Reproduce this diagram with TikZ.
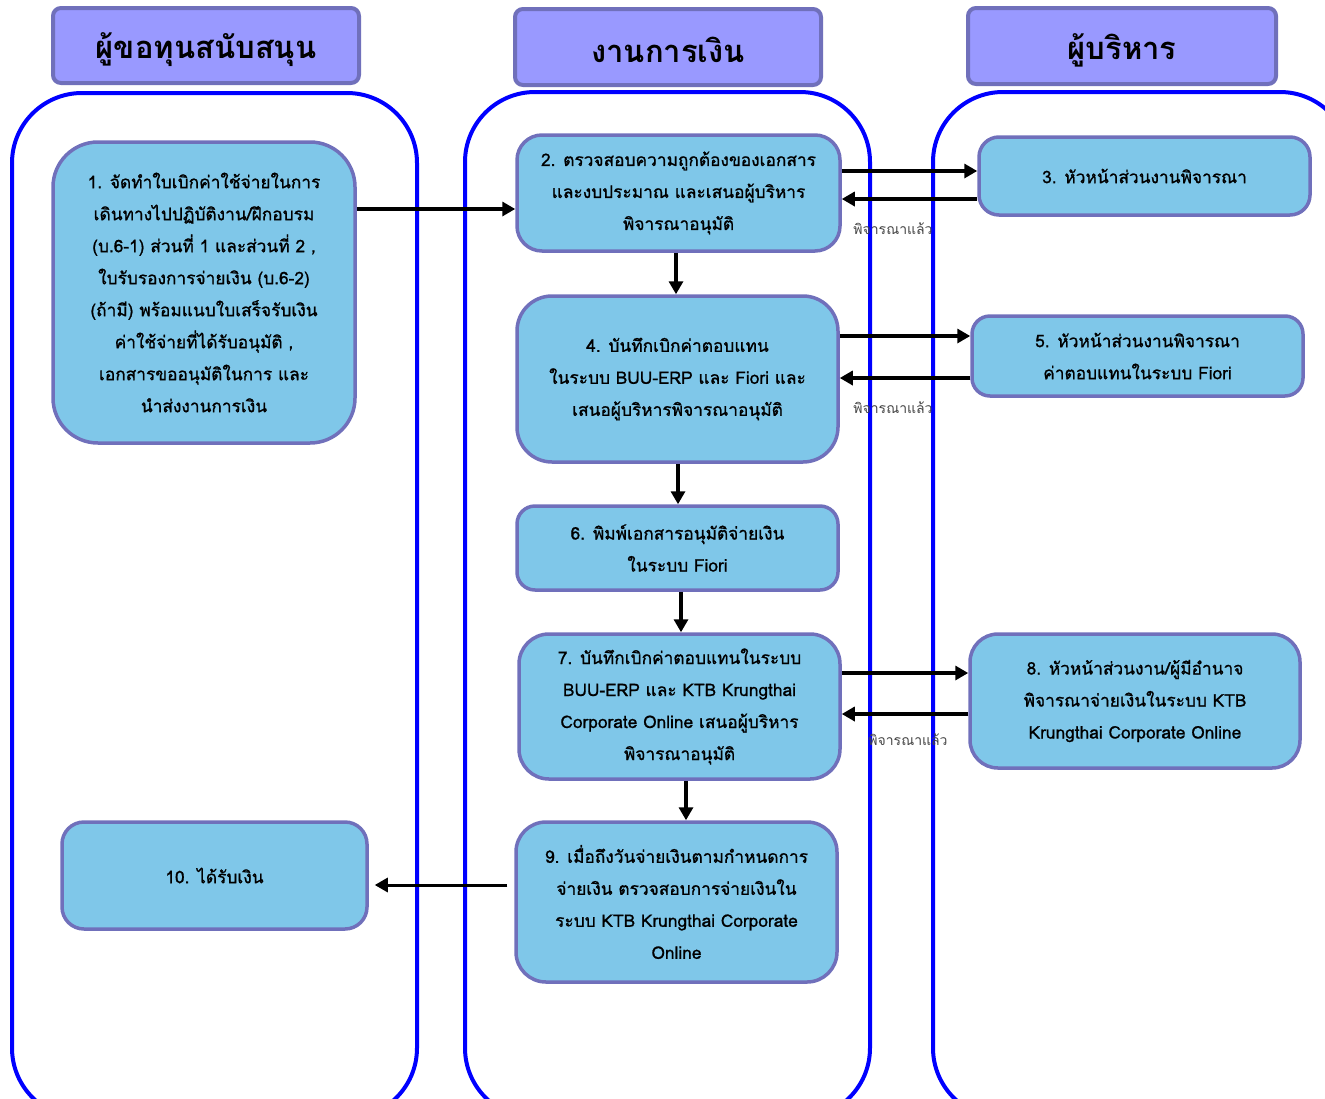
\documentclass[tikz,border=0pt]{standalone}
\usepackage{fontspec}
\newfontfamily\thai[Script=Thai, FakeBold=1.0]{Loma}
\newfontfamily\thaiplain[Script=Thai]{Loma}
\usetikzlibrary{arrows.meta}
\definecolor{boxfill}{HTML}{7FC7E9}
\definecolor{boxborder}{HTML}{7070BB}
\definecolor{headfill}{HTML}{9999FF}
\definecolor{lanecol}{HTML}{0000FF}
\definecolor{labgray}{HTML}{444444}
\tikzset{
  lane/.style={draw=lanecol, line width=4pt, rounded corners=70pt},
  stepbox/.style={draw=boxborder, line width=3.5pt, fill=boxfill, rounded corners=25pt,
    align=center, inner sep=0pt, font=\thai\fontsize{17.3}{32}\selectfont},
  headbox/.style={draw=boxborder, line width=4pt, fill=headfill, rounded corners=8pt,
    align=center, inner sep=0pt, font=\thaiplain\bfseries\fontsize{31}{34}\selectfont},
  headtext/.style={inner sep=0pt, font=\thaiplain\bfseries\fontsize{31}{34}\selectfont},
  arr/.style={draw=black, line width=4pt, -{Triangle[length=13pt,width=14pt]}},
  lab/.style={text=labgray, inner sep=0pt, font=\thaiplain\fontsize{14}{16}\selectfont},
}
\begin{document}
\begin{tikzpicture}[x=1pt,y=-1pt]
\useasboundingbox (0,0) rectangle (1325,1098);
\clip (0,0) rectangle (1325,1098);
% lanes
\draw[lane] (12,93) rectangle (417,1118);
\draw[lane] (465,92) rectangle (870,1118);
\draw[lane] (933,92) rectangle (1350,1118);
% headers
\node[headbox, minimum width=306pt, minimum height=75pt] (h1) at (206,45.5) {};
\node[headbox, minimum width=306pt, minimum height=76pt] (h2) at (668,47) {};
\node[headbox, minimum width=308pt, minimum height=76pt] (h3) at (1122,46) {};
\node[headtext] (t1) at ([yshift=-4pt]h1.center) {ผู้ขอทุนสนับสนุน};
\node[headtext] (t2) at ([yshift=-3pt]h2.center) {งานการเงิน};
\node[headtext] (t3) at ([yshift=-4pt]h3.center) {ผู้บริหาร};
% steps
\node[stepbox, rounded corners=45pt, minimum width=302pt, minimum height=301pt] (b1) at (204,292.5)
 {1. จัดทำใบเบิกค่าใช้จ่ายในการ\\เดินทางไปปฏิบัติงาน/ฝึกอบรม\\(บ.6-1) ส่วนที่ 1 และส่วนที่ 2 ,\\ใบรับรองการจ่ายเงิน (บ.6-2)\\(ถ้ามี) พร้อมแนบใบเสร็จรับเงิน\\ค่าใช้จ่ายที่ได้รับอนุมัติ ,\\เอกสารขออนุมัติในการ และ\\นำส่งงานการเงิน};
\node[stepbox, minimum width=323pt, minimum height=116pt] (b2) at (678.5,193)
 {2. ตรวจสอบความถูกต้องของเอกสาร\\และงบประมาณ และเสนอผู้บริหาร\\พิจารณาอนุมัติ};
\node[stepbox, rounded corners=20pt, minimum width=331pt, minimum height=78pt] (b3) at (1144.5,176)
 {3. หัวหน้าส่วนงานพิจารณา};
\node[stepbox, rounded corners=35pt, minimum width=321pt, minimum height=166pt] (b4) at (677.5,379)
 {4. บันทึกเบิกค่าตอบแทน\\ในระบบ BUU-ERP และ Fiori และ\\เสนอผู้บริหารพิจารณาอนุมัติ};
\node[stepbox, rounded corners=18pt, minimum width=331pt, minimum height=80pt] (b5) at (1137.5,356)
 {5. หัวหน้าส่วนงานพิจารณา\\ค่าตอบแทนในระบบ Fiori};
\node[stepbox, rounded corners=18pt, minimum width=321pt, minimum height=84pt] (b6) at (677.5,548)
 {6. พิมพ์เอกสารอนุมัติจ่ายเงิน\\ในระบบ Fiori};
\node[stepbox, rounded corners=30pt, minimum width=321pt, minimum height=145pt] (b7) at (679.5,706.5)
 {7. บันทึกเบิกค่าตอบแทนในระบบ\\BUU-ERP และ KTB Krungthai\\Corporate Online เสนอผู้บริหาร\\พิจารณาอนุมัติ};
\node[stepbox, rounded corners=28pt, minimum width=330pt, minimum height=134pt] (b8) at (1135,701)
 {8. หัวหน้าส่วนงาน/ผู้มีอำนาจ\\พิจารณาจ่ายเงินในระบบ KTB\\Krungthai Corporate Online};
\node[stepbox, rounded corners=30pt, minimum width=321pt, minimum height=160pt] (b9) at (676.5,902)
 {9. เมื่อถึงวันจ่ายเงินตามกำหนดการ\\จ่ายเงิน ตรวจสอบการจ่ายเงินใน\\ระบบ KTB Krungthai Corporate\\Online};
\node[stepbox, rounded corners=22pt, minimum width=305pt, minimum height=107pt] (b10) at (214.5,875.5)
 {10. ได้รับเงิน};
% labels
\node[lab] (l1) at (893,229) {พิจารณาแล้ว};
\node[lab] (l2) at (893,408) {พิจารณาแล้ว};
\node[lab] (l3) at (908,740) {พิจารณาแล้ว};
% connectors
\draw[arr] (b1.east |- 0,209) -- (b2.west |- 0,209);
\draw[arr] (b2.east |- 0,171) -- (b3.west |- 0,171);
\draw[arr] (b3.west |- 0,199) -- (b2.east |- 0,199);
\draw[arr] (b2.south -| 676,0) -- (b4.north -| 676,0);
\draw[arr] (b4.east |- 0,336) -- (b5.west |- 0,336);
\draw[arr] (b5.west |- 0,378) -- (b4.east |- 0,378);
\draw[arr] (b4.south -| 678,0) -- (b6.north -| 678,0);
\draw[arr] (b6.south -| 681,0) -- (b7.north -| 681,0);
\draw[arr] (b7.east |- 0,673) -- (b8.west |- 0,673);
\draw[arr] (b8.west |- 0,714) -- (b7.east |- 0,714);
\draw[arr] (b7.south -| 686,0) -- (b9.north -| 686,0);
\draw[arr, line width=3pt] ([xshift=-7pt]b9.west |- 0,885) -- ([xshift=6pt]b10.east |- 0,885);
\end{tikzpicture}
\end{document}
